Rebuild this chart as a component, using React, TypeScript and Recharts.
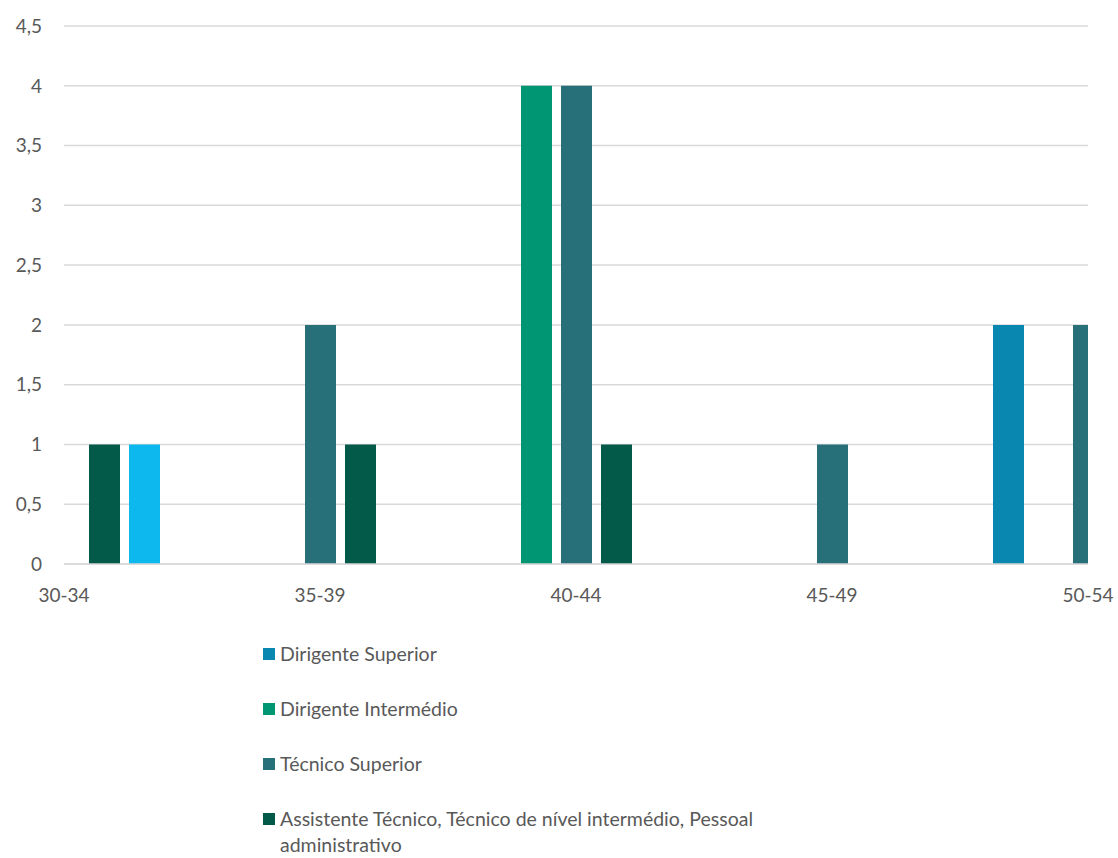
import React from 'react';
import { BarChart, Bar, XAxis, YAxis, CartesianGrid } from 'recharts';

// faixas etárias (posição numérica 0..4 no eixo X)
const ageGroups = ['30-34', '35-39', '40-44', '45-49', '50-54'];
const groupPositions = [0, 1, 2, 3, 4];

const dirigenteSuperior = [0, 0, 0, 0, 2];
const dirigenteIntermedio = [0, 0, 4, 0, 0];
const tecnicoSuperior = [0, 2, 4, 1, 2];
const assistenteTecnico = [1, 1, 1, 0, 0];
const outros = [1, 0, 0, 0, 0];

const yTicks = [0, 0.5, 1, 1.5, 2, 2.5, 3, 3.5, 4, 4.5];

const series = [
  { key: 'dirigenteSuperior', name: 'Dirigente Superior', color: '#0a87b1', values: dirigenteSuperior, inLegend: true },
  { key: 'dirigenteIntermedio', name: 'Dirigente Intermédio', color: '#009573', values: dirigenteIntermedio, inLegend: true },
  { key: 'tecnicoSuperior', name: 'Técnico Superior', color: '#27707a', values: tecnicoSuperior, inLegend: true },
  {
    key: 'assistenteTecnico',
    name: 'Assistente Técnico, Técnico de nível intermédio, Pessoal administrativo',
    color: '#035a48',
    values: assistenteTecnico,
    inLegend: true,
  },
  { key: 'outros', name: 'Outros', color: '#0db8ee', values: outros, inLegend: false },
];

const data = groupPositions.map((pos, i) => {
  const row: Record<string, number | string> = { pos, group: ageGroups[i] };
  series.forEach((s) => {
    row[s.key] = s.values[i];
  });
  return row;
});

const FONT = 'Lato, "Open Sans", sans-serif';
const TEXT = '#595959';
const GRID = '#d9d9d9';

const fmt = (v: number) => String(v).replace('.', ',');

export default function App() {
  return (
    <div style={{ position: 'absolute', left: 0, top: 0, width: 1118, height: 858, background: '#fff', fontFamily: FONT }}>
      <BarChart
        width={1118}
        height={620}
        data={data}
        margin={{ top: 26, right: 30, bottom: 26, left: 0 }}
        barSize={31}
        barGap={9}
      >
        <CartesianGrid vertical={false} stroke={GRID} strokeWidth={1.5} />
        <XAxis
          dataKey="pos"
          type="number"
          domain={[0, 4]}
          ticks={groupPositions}
          interval={0}
          allowDataOverflow
          tickFormatter={(v: number) => ageGroups[v]}
          height={30}
          axisLine={{ stroke: GRID, strokeWidth: 1.5 }}
          tickLine={false}
          tickMargin={19}
          tick={{ fill: TEXT, fontSize: 19, fontFamily: FONT }}
        />
        <YAxis
          domain={[0, 4.5]}
          ticks={yTicks}
          interval={0}
          width={64}
          axisLine={false}
          tickLine={false}
          tickMargin={16}
          tickFormatter={fmt}
          tick={{ fill: TEXT, fontSize: 19, fontFamily: FONT }}
        />
        {series.map((s) => (
          <Bar key={s.key} dataKey={s.key} name={s.name} fill={s.color} isAnimationActive={false} />
        ))}
      </BarChart>
      <div style={{ position: 'absolute', left: 263, top: 641, width: 580, color: TEXT, fontSize: 19.5 }}>
        {series
          .filter((s) => s.inLegend)
          .map((s) => (
            <div key={s.key} style={{ display: 'flex', alignItems: 'flex-start', lineHeight: '26px', marginBottom: 29 }}>
              <span style={{ width: 12, height: 12, marginTop: 7, marginRight: 5, flex: 'none', background: s.color }} />
              <span>{s.name}</span>
            </div>
          ))}
      </div>
    </div>
  );
}
